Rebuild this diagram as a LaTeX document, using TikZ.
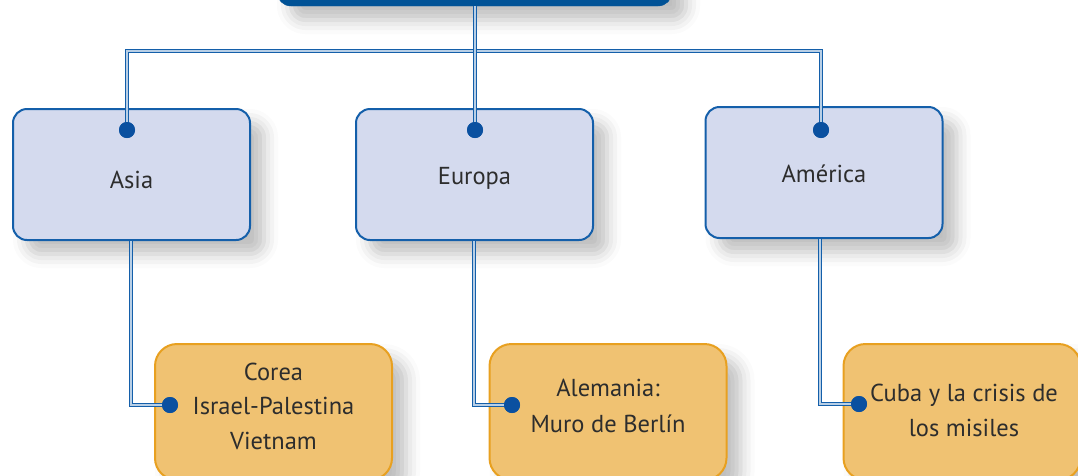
\documentclass[tikz,border=0pt]{standalone}
\usepackage{fontspec}
\setmainfont{PT Sans}
\usetikzlibrary{shadows.blur}
\definecolor{lineblue}{RGB}{20,95,170}
\definecolor{palebluefill}{RGB}{212,218,238}
\definecolor{darkblue}{RGB}{0,82,150}
\definecolor{orfill}{RGB}{240,194,114}
\definecolor{ordraw}{RGB}{232,160,32}
\definecolor{txt}{RGB}{45,45,45}
\definecolor{dotblue}{RGB}{10,80,160}
\tikzset{
  sh/.style={blur shadow={shadow xshift=14pt,shadow yshift=-14pt,shadow blur radius=14pt,shadow opacity=25}},
  bluebox/.style={draw=lineblue,line width=2pt,fill=palebluefill,rounded corners=14pt,
    minimum width=237pt,minimum height=131pt,text=txt,font=\fontsize{24.5pt}{30pt}\selectfont,sh},
  orbox/.style={draw=ordraw,line width=2pt,fill=orfill,rounded corners=22pt,
    minimum width=237pt,minimum height=136pt,text=txt,align=center,
    font=\fontsize{24.5pt}{35pt}\selectfont,sh},
  topbox/.style={draw=darkblue,fill=darkblue,rounded corners=14pt,minimum width=395pt,minimum height=60pt,sh},
  conn/.style={draw=lineblue,line width=0.8pt,double=white!70!lineblue,double distance=1.6pt},
  dot/.style={circle,inner sep=0pt,minimum size=16pt,fill=dotblue},
  lbl/.style={text=txt,align=center,inner sep=0pt}
}
\begin{document}
\begin{tikzpicture}[x=1pt,y=-1pt]
\useasboundingbox (0,0) rectangle (1078,475);
\node[topbox] (top) at (474.5,-24) {};
\node[bluebox] (asia) at (131.5,174.5) {};
\node[bluebox] (europa) at (474.5,174.5) {};
\node[bluebox] (america) at (824,172.5) {};
\node[orbox] (corea) at (273.5,412) {};
\node[orbox] (alemania) at (608,412) {};
\node[orbox] (cuba) at (962,412) {};
\node[lbl,font=\fontsize{24.5pt}{30pt}\selectfont] (tasia) at (131.5,180) {Asia};
\node[lbl,font=\fontsize{24.5pt}{30pt}\selectfont] (teuropa) at (474.5,178) {Europa};
\node[lbl,font=\fontsize{24.5pt}{30pt}\selectfont] (tamerica) at (824,174) {América};
\node[lbl,font=\fontsize{24.5pt}{34.5pt}\selectfont] (tcorea) at (273.5,406) {Corea\\Israel-Palestina\\Vietnam};
\node[lbl,font=\fontsize{24.5pt}{35.5pt}\selectfont] (talemania) at (608,406) {Alemania:\\Muro de Berlín};
\node[lbl,font=\fontsize{24.5pt}{35pt}\selectfont] (tcuba) at (964,410) {Cuba y la crisis de\\los misiles};
\node[dot] (da) at (127,130) {};
\node[dot] (de) at (475,130) {};
\node[dot] (dam) at (821,130) {};
\node[dot] (dc) at (170,405) {};
\node[dot] (dal) at (512,405) {};
\node[dot] (dcu) at (859,404) {};
\draw[conn] (da.center) -- (127,51) -- (821,51) -- (dam.center);
\draw[conn] (top.south -| de) -- (de.center);
\draw[conn] (asia.south -| 131,0) -- (131,405) -- (dc.center);
\draw[conn] (europa.south -| 474,0) -- (474,405) -- (dal.center);
\draw[conn] (america.south -| 820,0) -- (820,404) -- (dcu.center);
\node[dot] at (da) {};
\node[dot] at (de) {};
\node[dot] at (dam) {};
\node[dot] at (dc) {};
\node[dot] at (dal) {};
\node[dot] at (dcu) {};
\end{tikzpicture}
\end{document}
